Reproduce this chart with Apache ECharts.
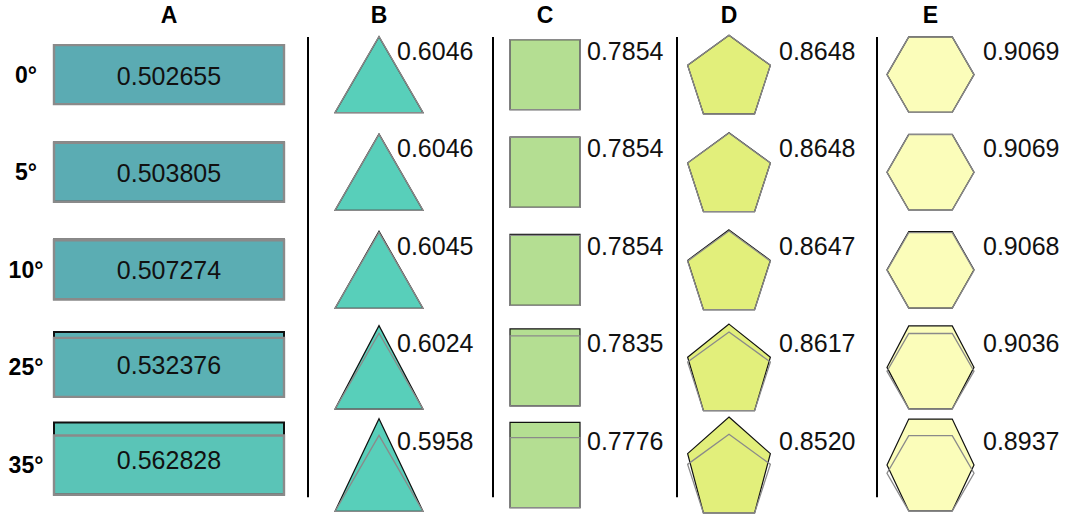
<!DOCTYPE html>
<html><head><meta charset="utf-8">
<script src="https://cdn.jsdelivr.net/npm/echarts@6/dist/echarts.min.js"></script>
<style>html,body{margin:0;padding:0;background:#fff}#c{width:1065px;height:521px}</style>
</head><body><div id="c"></div><script>
// ---- data ----
const columns = ['A', 'B', 'C', 'D', 'E'];
const angles = ['0°', '5°', '10°', '25°', '35°'];
const valuesA = [0.502655, 0.503805, 0.507274, 0.532376, 0.562828];
const valuesB = [0.6046, 0.6046, 0.6045, 0.6024, 0.5958];
const valuesC = [0.7854, 0.7854, 0.7854, 0.7835, 0.7776];
const valuesD = [0.8648, 0.8648, 0.8647, 0.8617, 0.8520];
const valuesE = [0.9069, 0.9069, 0.9068, 0.9036, 0.8937];
const stretch = [1.0, 1.004, 1.015, 1.10, 1.22];
const decimals = [6, 4, 4, 4, 4];

// ---- layout & style ----
const colX = [169, 379, 545, 729, 930.5];
const headerRow = -0.61;
const rowLabelX = 26;
const dividerX = [308, 493, 677, 877];
const dividerY = [-0.385, 4.33];
const labelDX = [0, 18, 42, 50, 52.5];
const labelDY = -24;
const FONT = '"Liberation Sans", Arial, Helvetica, sans-serif';
const fillA = ['#5BABB3', '#5BACB3', '#5BADB3', '#5BB1B4', '#5AC4B7'];
const fills = [null, '#58CFBA', '#B4DE92', '#E2EF7B', '#FBFDBA'];

const allValues = [valuesA, valuesB, valuesC, valuesD, valuesE];
const cells = [];
allValues.forEach((vals, c) => vals.forEach((v, r) => cells.push([c, r, v, stretch[r]])));

// shape outlines relative to (centerX, bottom), y negative upward; returns [points, height]
function baseShape(col) {
  if (col === 0) { const w = 230, h = 59; return [[[-w/2,0],[w/2,0],[w/2,-h],[-w/2,-h]], h]; }
  if (col === 1) { const w = 88, h = 76; return [[[-w/2,0],[w/2,0],[0,-h]], h]; }
  if (col === 2) { const w = 70, h = 70; return [[[-w/2,0],[w/2,0],[w/2,-h],[-w/2,-h]], h]; }
  if (col === 3) {
    const R = 43.5, pts = [];
    const bot = R * Math.cos(Math.PI / 5);
    for (let k = 0; k < 5; k++) {
      const a = (-90 + 72 * k) * Math.PI / 180;
      pts.push([R * Math.cos(a), R * Math.sin(a) - bot]);
    }
    return [pts, R + bot];
  }
  const R = 43.5, pts = [], bot = R * Math.sqrt(3) / 2;
  for (let k = 0; k < 6; k++) {
    const a = 60 * k * Math.PI / 180;
    pts.push([R * Math.cos(a), R * Math.sin(a) - bot]);
  }
  return [pts, 2 * bot];
}

function renderCell(params, api) {
  const col = api.value(0), row = api.value(1), val = api.value(2), s = api.value(3);
  const p = api.coord([colX[col], row]);
  const cx = p[0], cy = p[1];
  const [pts, h] = baseShape(col);
  const bottom = col === 0 ? cy + h / 2 : cy + h * s / 2;
  const black = pts.map(q => [cx + q[0], bottom + q[1] * s]);
  const gray = pts.map(q => [cx + q[0], bottom + q[1]]);
  const fill = col === 0 ? fillA[row] : fills[col];
  const children = [
    { type: 'polygon', shape: { points: black }, style: { fill: fill, stroke: '#111', lineWidth: col === 0 ? 2 : 1.2 } },
    { type: 'polygon', shape: { points: gray }, style: { fill: 'none', stroke: '#8a8a8a', lineWidth: col === 0 ? 2.4 : 1.3 } }
  ];
  const txt = val.toFixed(decimals[col]);
  if (col === 0) {
    children.push({ type: 'text', x: cx, y: bottom - h * s / 2 + 1,
      style: { text: txt, fill: '#111', fontSize: 25, fontFamily: FONT, align: 'center', verticalAlign: 'middle' } });
  } else {
    children.push({ type: 'text', x: cx + labelDX[col], y: cy + labelDY,
      style: { text: txt, fill: '#111', fontSize: 25, fontFamily: FONT, align: 'left', verticalAlign: 'middle' } });
  }
  return { type: 'group', children: children };
}

function renderHeader(params, api) {
  const i = api.value(0);
  const p = api.coord([colX[i], headerRow]);
  return { type: 'text', x: p[0], y: p[1],
    style: { text: columns[i], fill: '#000', fontSize: 23, fontWeight: 'bold', fontFamily: FONT, align: 'center', verticalAlign: 'middle' } };
}
function renderRowLabel(params, api) {
  const i = api.value(0);
  const p = api.coord([rowLabelX, i]);
  return { type: 'text', x: p[0], y: p[1],
    style: { text: angles[i], fill: '#000', fontSize: 23, fontWeight: 'bold', fontFamily: FONT, align: 'center', verticalAlign: 'middle' } };
}
function renderDivider(params, api) {
  const i = api.value(0);
  const a = api.coord([dividerX[i], dividerY[0]]);
  const b = api.coord([dividerX[i], dividerY[1]]);
  return { type: 'line', shape: { x1: a[0], y1: a[1], x2: b[0], y2: b[1] }, style: { stroke: '#000', lineWidth: 2 } };
}

const chart = echarts.init(document.getElementById('c'), null, { renderer: 'svg' });
chart.setOption({
  animation: false,
  backgroundColor: '#fff',
  grid: { left: 0, right: 0, top: 25.8, bottom: 7.2 },
  xAxis: { type: 'value', min: 0, max: 1065, show: false },
  yAxis: { type: 'value', min: -0.5, max: 4.5, inverse: true, show: false },
  series: [
    { type: 'custom', name: 'dividers', renderItem: renderDivider, data: dividerX.map((d, i) => [i, i]), encode: { x: 0, y: 1 }, silent: true },
    { type: 'custom', name: 'shapes', renderItem: renderCell, data: cells, encode: { x: 0, y: 1 }, silent: true },
    { type: 'custom', name: 'headers', renderItem: renderHeader, data: columns.map((c, i) => [i, i]), encode: { x: 0, y: 1 }, silent: true },
    { type: 'custom', name: 'rowLabels', renderItem: renderRowLabel, data: angles.map((a, i) => [i, i]), encode: { x: 0, y: 1 }, silent: true }
  ]
});
</script></body></html>
